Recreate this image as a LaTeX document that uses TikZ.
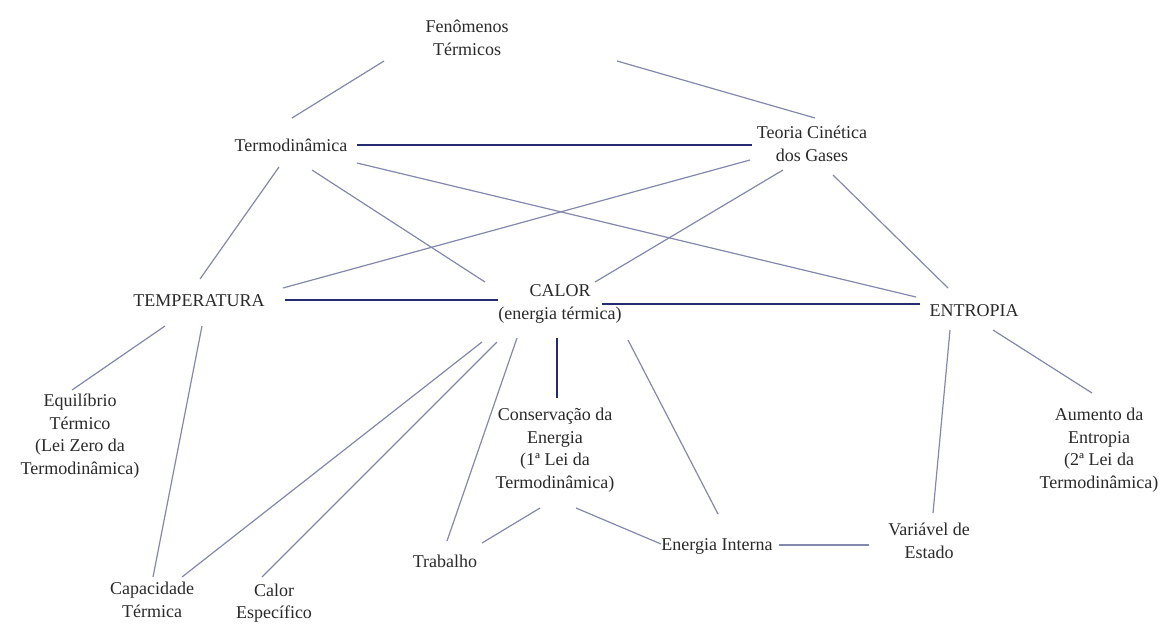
\documentclass[tikz,border=0pt]{standalone}
\usepackage{fontspec}
\setmainfont{Liberation Serif}
\usetikzlibrary{calc}
\definecolor{thinc}{HTML}{8488AC}
\definecolor{thickc}{HTML}{262A70}
\definecolor{txtc}{HTML}{2A2A2A}
\begin{document}
\begin{tikzpicture}[x=1pt,y=-1pt,
  lbl/.style={align=center,text=txtc,inner sep=0pt,font=\fontsize{18}{22.5}\selectfont},
  thinline/.style={draw=thinc,line width=1.2pt},
  thickline/.style={draw=thickc,line width=2.8pt}]
\useasboundingbox[fill=white] (0,0) rectangle (1161,625);
\node[lbl] (fen) at (467,38) {Fenômenos\\Térmicos};
\node[lbl] (termo) at (291,145) {Termodinâmica};
\node[lbl] (teoria) at (812,144) {Teoria Cinética\\dos Gases};
\node[lbl] (temp) at (199,301) {TEMPERATURA};
\node[lbl] (calor) at (560,304) {CALOR\\(energia térmica)};
\node[lbl] (entropia) at (974,311) {ENTROPIA};
\node[lbl] (equil) at (80,436) {Equilíbrio\\Térmico\\(Lei Zero da\\Termodinâmica)};
\node[lbl] (cons) at (555,450) {Conservação da\\Energia\\(1ª Lei da\\Termodinâmica)};
\node[lbl] (aumento) at (1099,450) {Aumento da\\Entropia\\(2ª Lei da\\Termodinâmica)};
\node[lbl] (trab) at (445,561) {Trabalho};
\node[lbl] (ei) at (717,546) {Energia Interna};
\node[lbl] (var) at (929,541) {Variável de\\Estado};
\node[lbl] (cap) at (152,600) {Capacidade\\Térmica};
\node[lbl] (cesp) at (274,603) {Calor\\Específico};
% thin connectors
\draw[thinline] ($(fen)+(-83,23)$) -- ($(termo)+(1,-27)$);
\draw[thinline] ($(fen)+(150,23)$) -- ($(teoria)+(3,-26)$);
\draw[thinline] ($(termo)+(-12,22)$) -- ($(temp)+(1,-22)$);
\draw[thinline] ($(termo)+(21,25)$) -- ($(calor)+(-75,-22)$);
\draw[thinline] ($(termo)+(66,18)$) -- ($(entropia)+(-58,-14)$);
\draw[thinline] ($(teoria)+(-62,16)$) -- ($(temp)+(84,-13)$);
\draw[thinline] ($(teoria)+(-29,26)$) -- ($(calor)+(35,-22)$);
\draw[thinline] ($(teoria)+(21,31)$) -- ($(entropia)+(-26,-23)$);
\draw[thinline] ($(temp)+(-34,25)$) -- ($(equil)+(-8,-46)$);
\draw[thinline] ($(temp)+(3,25)$) -- ($(cap)+(1,-23)$);
\draw[thinline] ($(calor)+(-78,38)$) -- ($(cap)+(30,-23)$);
\draw[thinline] ($(calor)+(-63,38)$) -- ($(cesp)+(-12,-26)$);
\draw[thinline] ($(calor)+(-43,34)$) -- ($(trab)+(2,-20)$);
\draw[thinline] ($(calor)+(68,36)$) -- ($(ei)+(1,-32)$);
\draw[thinline] ($(entropia)+(-24,19)$) -- ($(var)+(4,-28)$);
\draw[thinline] ($(entropia)+(19,19)$) -- ($(aumento)+(-7,-57)$);
\draw[thinline] ($(cons)+(-15,58)$) -- ($(trab)+(37,-18)$);
\draw[thinline] ($(cons)+(21,58)$) -- ($(ei)+(-56,-2)$);
\draw[thinline] ($(ei)+(62,-1)$) -- ($(var)+(-60,4)$);
% thick connectors
\draw[thickline] ($(termo)+(66,0)$) -- ($(teoria)+(-60,1)$);
\draw[thickline] ($(temp)+(86,-1)$) -- ($(calor)+(-62,-4)$);
\draw[thickline] ($(calor)+(42,0)$) -- ($(entropia)+(-54,-7)$);
\draw[thickline] ($(calor)+(-3,34)$) -- ($(cons)+(2,-52)$);
\end{tikzpicture}
\end{document}
